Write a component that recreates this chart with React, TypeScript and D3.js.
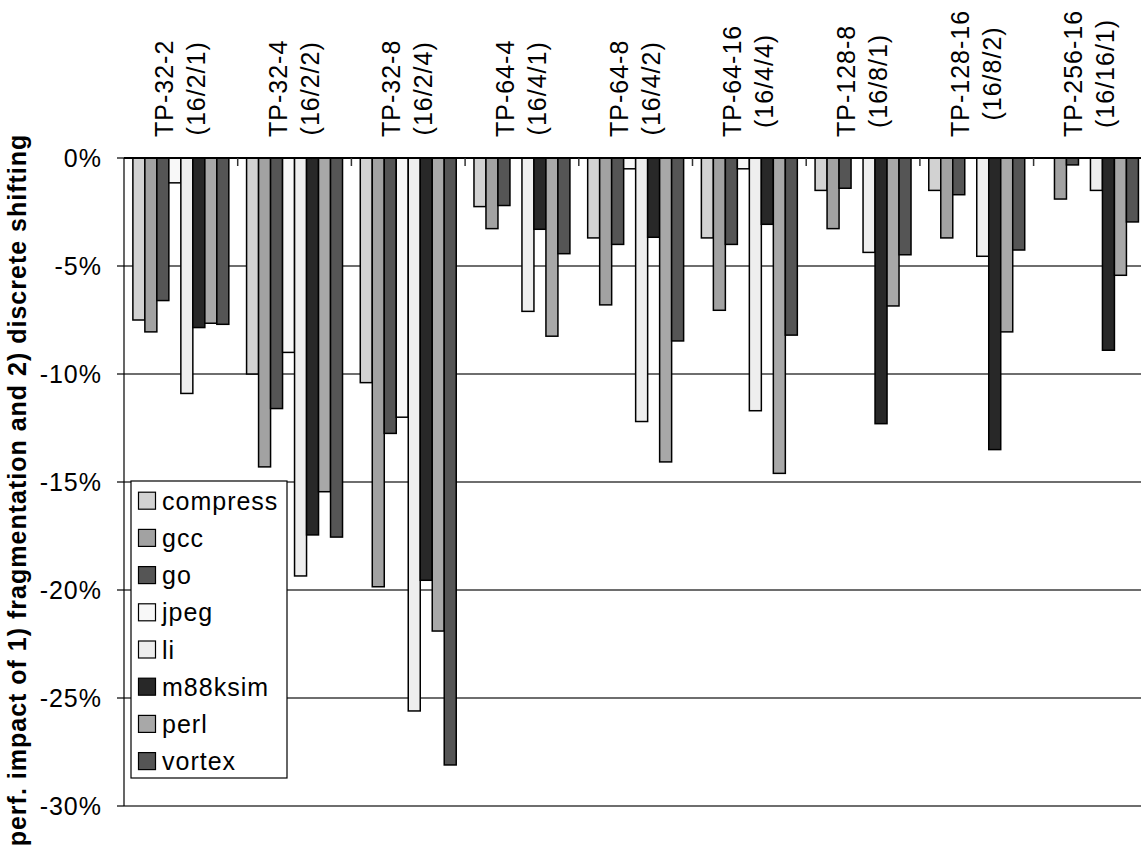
import * as d3 from "d3";

const categories = ["TP-32-2", "TP-32-4", "TP-32-8", "TP-64-4", "TP-64-8", "TP-64-16", "TP-128-8", "TP-128-16", "TP-256-16"];
const configs = ["(16/2/1)", "(16/2/2)", "(16/2/4)", "(16/4/1)", "(16/4/2)", "(16/4/4)", "(16/8/1)", "(16/8/2)", "(16/16/1)"];

const seriesNames = ["compress", "gcc", "go", "jpeg", "li", "m88ksim", "perl", "vortex"];
const seriesColors = ["#d2d2d2", "#a2a2a2", "#555555", "#f8f8f8", "#eeeeee", "#282828", "#a8a8a8", "#555555"];

// perf. change in %, one value per category
const compress = [-7.5, -10.0, -10.4, -2.25, -3.7, -3.7, -1.5, -1.5, 0];
const gcc = [-8.05, -14.3, -19.85, -3.27, -6.8, -7.05, -3.27, -3.7, -1.9];
const go = [-6.6, -11.6, -12.75, -2.2, -4.0, -4.0, -1.4, -1.7, -0.32];
const jpeg = [-1.15, -9.0, -12.0, 0, -0.5, -0.5, 0, 0, 0];
const li = [-10.9, -19.35, -25.6, -7.1, -12.2, -11.7, -4.37, -4.55, -1.5];
const m88ksim = [-7.85, -17.45, -19.55, -3.3, -3.67, -3.07, -12.3, -13.5, -8.9];
const perl = [-7.65, -15.45, -21.9, -8.25, -14.07, -14.6, -6.85, -8.05, -5.43];
const vortex = [-7.7, -17.55, -28.1, -4.43, -8.47, -8.2, -4.48, -4.26, -2.96];
const seriesValues = [compress, gcc, go, jpeg, li, m88ksim, perl, vortex];

const yTicks = [0, -5, -10, -15, -20, -25, -30];

const FONT = '"Liberation Sans", Arial, sans-serif';
const FS = 25;
const LS = 1;

let measureCtx: CanvasRenderingContext2D | null = null;
function textWidth(s: string) {
  if (!measureCtx) measureCtx = document.createElement("canvas").getContext("2d");
  if (!measureCtx) return s.length * 12;
  measureCtx.font = `${FS}px "Liberation Sans", Arial, sans-serif`;
  return measureCtx.measureText(s).width + s.length * LS;
}

export default function App() {
  const width = 1141;
  const height = 853;

  const x0 = d3.scaleBand<string>().domain(categories).range([124, 1147.3]);
  const x1 = d3
    .scaleBand<string>()
    .domain(seriesNames)
    .range([0, x0.bandwidth()])
    .paddingOuter(0.74);
  const y = d3.scaleLinear().domain([-30, 0]).range([806, 158]);

  const zeroY = y(0);
  const plotRight = x0.range()[1];

  return (
    <svg
      width={width}
      height={height}
      style={{ position: "absolute", left: 0, top: 0, background: "#fff" }}
      fontFamily={FONT}
    >
      <rect width={width} height={height} fill="#fff" />

      {/* gridlines */}
      {yTicks
        .filter((t) => t !== 0)
        .map((t) => (
          <line key={t} x1={124} x2={plotRight} y1={y(t)} y2={y(t)} stroke="#6e6e6e" strokeWidth={2} />
        ))}

      {/* bars */}
      {categories.map((c, ci) => (
        <g key={c} transform={`translate(${x0(c)},0)`}>
          {seriesNames.map((s, si) => {
            const v = seriesValues[si][ci];
            if (v === 0) return null;
            return (
              <rect
                key={s}
                x={x1(s)}
                y={zeroY}
                width={x1.bandwidth()}
                height={y(v) - zeroY}
                fill={seriesColors[si]}
                stroke="#000"
                strokeWidth={1.5}
              />
            );
          })}
        </g>
      ))}

      {/* y axis */}
      <line x1={124} x2={124} y1={zeroY} y2={y(-30)} stroke="#000" strokeWidth={1.2} />
      {yTicks.map((t) => (
        <g key={t}>
          <line x1={117} x2={124} y1={y(t)} y2={y(t)} stroke="#000" strokeWidth={1.2} />
          <text x={102} y={y(t)} dy="0.35em" textAnchor="end" fontSize={FS} letterSpacing={LS}>
            {`${t}%`}
          </text>
        </g>
      ))}

      {/* category axis at zero */}
      <line x1={124} x2={plotRight} y1={zeroY} y2={zeroY} stroke="#000" strokeWidth={2} />
      {categories.slice(1).map((c) => (
        <line key={c} x1={x0(c)} x2={x0(c)} y1={zeroY} y2={zeroY + 8} stroke="#333" strokeWidth={1.5} />
      ))}

      {/* category labels, rotated */}
      {categories.map((c, ci) => {
        const cx = (x0(c) as number) + x0.bandwidth() / 2;
        const w = Math.max(textWidth(c), textWidth(configs[ci]));
        const cy = 137 - w / 2;
        return (
          <g key={c} fontSize={FS} letterSpacing={LS} textAnchor="middle">
            <text transform={`translate(${cx - 8},${cy}) rotate(-90)`}>{c}</text>
            <text transform={`translate(${cx + 24},${cy}) rotate(-90)`}>{configs[ci]}</text>
          </g>
        );
      })}

      {/* y title */}
      <text
        transform="translate(26,490) rotate(-90)"
        textAnchor="middle"
        fontSize={25}
        fontWeight="bold"
        letterSpacing={1}
      >
        perf. impact of 1) fragmentation and 2) discrete shifting
      </text>

      {/* legend */}
      <g>
        <rect x={131} y={481} width={156} height={297} fill="#fff" stroke="#000" strokeWidth={1.2} />
        {seriesNames.map((s, i) => {
          const cy = 500.7 + i * 37.2;
          return (
            <g key={s}>
              <rect x={138.5} y={cy - 8.5} width={17} height={17} fill={seriesColors[i]} stroke="#000" strokeWidth={1.2} />
              <text x={162} y={cy + 9} fontSize={FS} letterSpacing={LS}>
                {s}
              </text>
            </g>
          );
        })}
      </g>
    </svg>
  );
}
